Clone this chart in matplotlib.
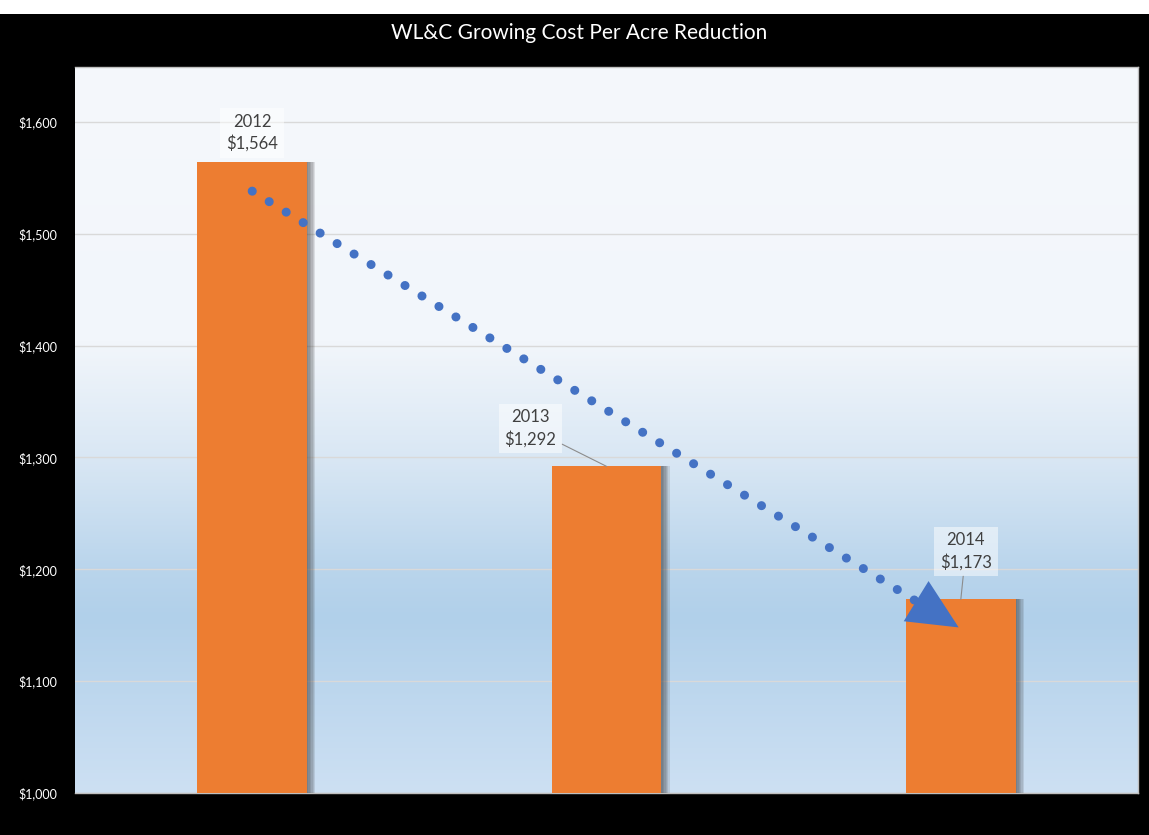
import matplotlib
matplotlib.use("Agg")
import matplotlib.pyplot as plt
import matplotlib.patheffects as pe
import numpy as np
from matplotlib.colors import LinearSegmentedColormap
from matplotlib.patches import Rectangle

# data
years = ["2012", "2013", "2014"]
cost_per_acre = [1564, 1292, 1173]
y_ticks = [1000, 1100, 1200, 1300, 1400, 1500, 1600]

BAR_COLOR = "#ED7D31"
TREND_COLOR = "#4472C4"
LABEL_COLOR = "#404040"

plt.rcParams["font.family"] = ["Lato", "DejaVu Sans"]


def money(v):
    return f"${v:,.0f}"


fig = plt.figure(figsize=(11.49, 8.35), dpi=100, facecolor="black")
# strip of the page above the chart
fig.patches.append(Rectangle((0, 1 - 14 / 835), 1, 14 / 835, transform=fig.transFigure,
                             facecolor="white", edgecolor="none", zorder=0))

ax = fig.add_axes([0.0653, 0.0503, 0.9251, 0.8695])

# vertical gradient fill of the plot area
grad = LinearSegmentedColormap.from_list("bg", [
    (0.0, "#cde0f3"),
    (0.24, "#b1d0ea"),
    (0.31, "#bad5ec"),
    (0.46, "#d9e7f4"),
    (0.62, "#f2f6fb"),
    (1.0, "#f5f8fc"),
])
ax.imshow(np.linspace(0, 1, 256).reshape(-1, 1), cmap=grad, origin="lower",
          extent=[0, 1, 0, 1], transform=ax.transAxes, aspect="auto", zorder=0)

x = np.arange(len(years))
bars = ax.bar(x, [v - 1000 for v in cost_per_acre], bottom=1000, width=0.31,
              color=BAR_COLOR, zorder=3)
# soft shadow on the right side of each bar
shadow = [pe.SimplePatchShadow(offset=(k, 0), shadow_rgbFace="#3a3a3a", alpha=0.13)
          for k in (1, 2, 3, 4, 5, 6)]
for b in bars:
    b.set_path_effects(shadow + [pe.Normal()])

ax.set_xlim(-0.5, 2.5)
ax.set_ylim(1000, 1649)
ax.set_xticks([])
ax.set_yticks(y_ticks)
ax.set_yticklabels([money(t) for t in y_ticks])
ax.tick_params(axis="y", length=0, pad=13, labelsize=9, labelcolor="white")
ax.grid(axis="y", color="#d9d9d9", linewidth=1, zorder=1)
ax.set_axisbelow(True)
for side, sp in ax.spines.items():
    sp.set_color("#bfbfbf")
    sp.set_linewidth(1)
ax.spines["left"].set_visible(False)

# dotted trend arrow from first bar down to the last bar
start = (x[0], cost_per_acre[0] - 26)
tip = (x[-1] - 0.006, cost_per_acre[-1] - 25)
t = 0.955
base = (start[0] + (tip[0] - start[0]) * t, start[1] + (tip[1] - start[1]) * t)
ax.plot([start[0], base[0]], [start[1], base[1]], color=TREND_COLOR, lw=6.5,
        linestyle=(0, (0.01, 2.2)), dash_capstyle="round", zorder=5)
ax.annotate("", xy=tip, xytext=base,
            arrowprops=dict(arrowstyle="-|>,head_length=1.8,head_width=0.85",
                            color=TREND_COLOR, lw=0, shrinkA=0, shrinkB=0,
                            mutation_scale=20), zorder=6)

# data labels (offsets from bar top, in data units)
label_offsets = [(0.0, 26), (-0.215, 34), (0.014, 43)]
for xi, yr, v, (dx, dy) in zip(x, years, cost_per_acre, label_offsets):
    show_leader = abs(dx) > 0.005 or dy > 30
    ax.annotate(f"{yr}\n{money(v)}", xy=(xi, v), xytext=(xi + dx, v + dy),
                ha="center", va="center", fontsize=12, color=LABEL_COLOR,
                linespacing=1.35, zorder=7,
                bbox=dict(boxstyle="square,pad=0.35", facecolor="white",
                          edgecolor="none", alpha=0.5),
                arrowprops=dict(arrowstyle="-", color="#8c8c8c", lw=0.8,
                                shrinkA=0, shrinkB=0) if show_leader else None)

fig.text(0.504, 1 - 33 / 835, "WL&C Growing Cost Per Acre Reduction",
         ha="center", va="center", color="white", fontsize=15)

fig.savefig("out.png", dpi=100, facecolor=fig.get_facecolor())
